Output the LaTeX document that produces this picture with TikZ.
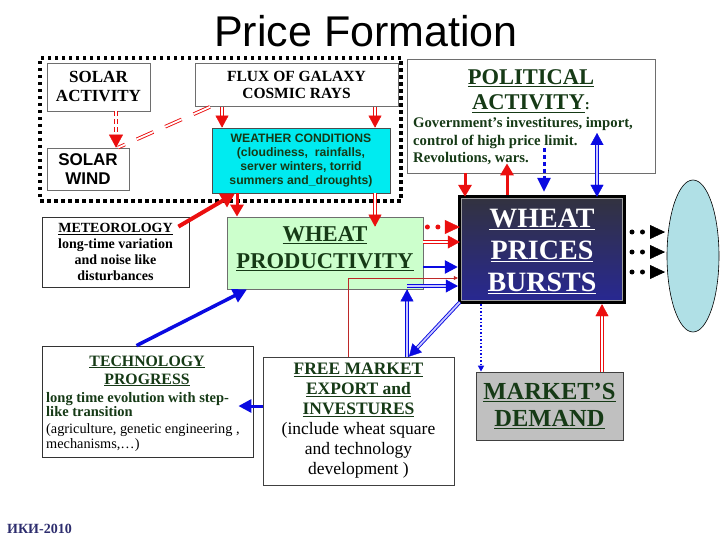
\documentclass[tikz,border=0pt]{standalone}
\usepackage{fontspec}
\setmainfont{Liberation Serif}
\setsansfont{Liberation Sans}
\usetikzlibrary{arrows.meta,shapes.geometric,calc}
\definecolor{dkgreen}{RGB}{22,58,22}
\definecolor{myred}{RGB}{235,15,15}
\definecolor{thinred}{RGB}{190,40,40}
\definecolor{myblue}{RGB}{10,10,225}
\definecolor{ltblue}{RGB}{200,200,255}
\definecolor{cyanbox}{RGB}{0,235,240}
\definecolor{greenbox}{RGB}{204,255,204}
\definecolor{graybox}{RGB}{192,192,192}
\definecolor{ellfill}{RGB}{176,224,230}
\definecolor{navytext}{RGB}{45,45,110}
\definecolor{boxgray}{RGB}{110,110,110}
\definecolor{ptop}{RGB}{50,50,64}
\definecolor{pbot}{RGB}{40,40,145}
\newcommand\fs[2]{\fontsize{#1}{#2}\selectfont}
% double-line arrow: colour, inner colour, from, to
\newcommand\dblarr[4]{%
  \draw[draw=#1, line width=0.9pt, double=#2, double distance=1.8pt, shorten >=9pt] (#3) -- (#4);
  \draw[draw=#1, line width=0.4pt, -{Triangle[length=12pt,width=13pt]}] ($(#4)!1pt!(#3)$) -- (#4);}
\newcommand\dblbiarr[4]{%
  \draw[draw=#1, line width=0.9pt, double=#2, double distance=1.8pt, shorten >=9pt, shorten <=9pt] (#3) -- (#4);
  \draw[draw=#1, line width=0.4pt, -{Triangle[length=12pt,width=13pt]}] ($(#4)!1pt!(#3)$) -- (#4);
  \draw[draw=#1, line width=0.4pt, -{Triangle[length=12pt,width=13pt]}] ($(#3)!1pt!(#4)$) -- (#3);}
% dotted arrow: colour, start of dots, tip
\newcommand\dotarr[3]{%
  \draw[draw=#1, line width=5pt, line cap=round, dash pattern=on 0pt off 10.5pt] (#2) -- ($(#2)!12pt!(#3)$);
  \draw[draw=#1, line width=0.4pt, -{Triangle[length=15pt,width=14pt]}] ($(#3)!1pt!(#2)$) -- (#3);}
\tikzset{
  boxA/.style={draw=boxgray, line width=0.8pt, fill=white, inner sep=0pt, align=center},
  txt/.style={inner sep=0pt},
  solidR/.style={draw=myred, line width=3pt, -{Triangle[length=12pt,width=13pt]}},
  solidB/.style={draw=myblue, line width=3pt, -{Triangle[length=13pt,width=13pt]}},
}
\begin{document}
\begin{tikzpicture}[x=1pt,y=-1pt]
\useasboundingbox (0,0) rectangle (720,540);
\fill[white] (0,0) rectangle (720,540);
% title
\node[txt, font=\sffamily\fs{43}{48}, anchor=base] (title) at (366,47) {Price Formation};
% dotted frame
\node[draw=black, line width=3.5pt, dash pattern=on 3.5pt off 3.5pt, minimum width=361pt, minimum height=143pt, inner sep=0pt] (frame) at (220.5,129.5) {};
% boxes
\node[boxA, minimum width=103pt, minimum height=48pt, font=\bfseries\fs{17}{19}] (solarA) at (98.5,87) {SOLAR\\ACTIVITY};
\node[boxA, minimum width=203pt, minimum height=43pt, font=\bfseries\fs{15.5}{17}] (flux) at (296.5,85) {FLUX OF GALAXY\\COSMIC RAYS};
\node[boxA, minimum width=82pt, minimum height=42pt, font=\sffamily\bfseries\fs{17}{19}] (solarW) at (88,169) {SOLAR\\WIND};
\node[boxA, draw=black!70, fill=cyanbox, minimum width=178pt, minimum height=65pt, font=\sffamily\bfseries\fs{12.2}{14}, text=dkgreen] (weather) at (301,160.5) {WEATHER CONDITIONS\\(cloudiness,\ \ rainfalls,\\server winters, torrid\\summers and\_droughts)};
\node[boxA, minimum width=248pt, minimum height=114pt] (political) at (531,116) {};
\node[boxA, draw=black!80, minimum width=147pt, minimum height=70pt, font=\bfseries\fs{14}{16}] (meteo) at (115.5,252) {\underline{METEOROLOGY}\\long-time variation\\and noise like\\disturbances};
\node[boxA, fill=greenbox, minimum width=196pt, minimum height=72pt] (prod) at (325,253) {};
\node[fill=black, minimum width=168pt, minimum height=109pt, inner sep=0pt] (prices) at (542,249.5) {};
\path[draw=gray!75, line width=0.7pt, top color=ptop, bottom color=pbot] ([shift={(4pt,-4pt)}]prices.north west) rectangle ([shift={(-4pt,4pt)}]prices.south east);
\node[ellipse, draw=black, line width=0.6pt, fill=ellfill, minimum width=52pt, minimum height=152pt, inner sep=0pt] (cloud) at (693,256) {};
\node[boxA, draw=black!80, minimum width=211pt, minimum height=111pt] (tech) at (147.5,401.5) {};
\node[boxA, draw=black!75, minimum width=191pt, minimum height=128pt, font=\fs{17.5}{20}] (freeM) at (358.5,421) {{\bfseries\color{dkgreen}\underline{FREE MARKET}}\\{\bfseries\color{dkgreen}\underline{EXPORT and}}\\{\bfseries\color{dkgreen}\underline{INVESTURES}}\\(include wheat square\\and technology\\development )};
\node[boxA, draw=black!75, fill=graybox, minimum width=147pt, minimum height=68pt, font=\bfseries\fs{24.5}{27}, text=dkgreen] (demand) at (549.5,406) {\underline{MARKET’S}\\\underline{DEMAND}};
% texts
\node[txt, font=\bfseries\fs{22.5}{26}, text=dkgreen, anchor=base] (polT1) at (531,85) {\underline{POLITICAL}};
\node[txt, font=\bfseries\fs{22.5}{26}, text=dkgreen, anchor=base] (polT2) at (531,110) {\underline{ACTIVITY}{\fs{15}{15}:}};
\node[txt, font=\bfseries\fs{14.7}{17}, text=dkgreen, anchor=base west] (polT3) at (413,128) {Government’s investitures, import,};
\node[txt, font=\bfseries\fs{14.7}{17}, text=dkgreen, anchor=base west] (polT4) at (413,146) {control of high price limit.};
\node[txt, font=\bfseries\fs{14.7}{17}, text=dkgreen, anchor=base west] (polT5) at (413,163) {Revolutions, wars.};
\node[txt, font=\bfseries\fs{22.6}{27}, text=dkgreen, align=center] (prodT) at (325,249) {\underline{WHEAT}\\\underline{PRODUCTIVITY}};
\node[txt, font=\bfseries\fs{28}{32}, text=white, align=center] (pricesT) at (542,251.5) {\underline{WHEAT}\\\underline{PRICES}\\\underline{BURSTS}};
\node[txt, font=\bfseries\fs{15.8}{18}, text=dkgreen, anchor=base] (techT1) at (147,366) {\underline{TECHNOLOGY}};
\node[txt, font=\bfseries\fs{15.8}{18}, text=dkgreen, anchor=base] (techT2) at (147,384) {\underline{PROGRESS}};
\node[txt, font=\bfseries\fs{14.5}{16}, text=dkgreen, anchor=base west] (techT3) at (46,402) {long time evolution with step-};
\node[txt, font=\bfseries\fs{14.5}{16}, text=dkgreen, anchor=base west] (techT4) at (46,416) {like transition};
\node[txt, font=\fs{14.3}{16}, anchor=base west] (techT5) at (46,433) {(agriculture, genetic engineering ,};
\node[txt, font=\fs{14.3}{16}, anchor=base west] (techT6) at (46,448) {mechanisms,…)};
\node[txt, font=\bfseries\fs{14}{15}, text=navytext, anchor=base west] (iki) at (7,533) {ИКИ-2010};
% connector end points
\coordinate (c1a) at (116,0 |- solarA.south);
\coordinate (c1b) at (116,0 |- solarW.north);
\coordinate (c2a) at (210,0 |- flux.south);
\coordinate (c2b) at (118,0 |- solarW.north);
\coordinate (c3a) at (222,0 |- flux.south);
\coordinate (c3b) at (222,0 |- weather.north);
\coordinate (c4a) at (375,0 |- flux.south);
\coordinate (c4b) at (375,0 |- weather.north);
\coordinate (c5a) at ([xshift=-11pt,yshift=-10pt]meteo.north east);
\coordinate (c5b) at (235,0 |- weather.south);
\coordinate (c6a) at (237,0 |- weather.south);
\coordinate (c6b) at (237,0 |- prod.north);
\coordinate (c7a) at (375,0 |- weather.south);
\coordinate (c7b) at ($(375,0 |- prod.north)+(0,10)$);
\coordinate (c8a) at ($(prod.east |- 0,227)+(4,0)$);
\coordinate (c8b) at ($(prices.west |- 0,227)+(2,0)$);
\coordinate (c9a) at (prod.east |- 0,242);
\coordinate (c9b) at ($(prices.west |- 0,242)+(2,0)$);
\coordinate (c10a) at (prod.east |- 0,267);
\coordinate (c10b) at (prices.west |- 0,267);
\coordinate (c11a) at (348,0 |- freeM.north);
\coordinate (c11b) at (prices.west |- 0,278);
\coordinate (c12a) at (407,0 |- freeM.north);
\coordinate (c12b) at (407,0 |- prod.south);
\coordinate (c13a) at (407,286);
\coordinate (c13b) at (prices.west |- 0,286);
\coordinate (c14a) at ([shift={(2pt,2pt)}]prices.south west);
\coordinate (c14b) at (409,0 |- freeM.north);
\coordinate (c15a) at ([xshift=-11pt]tech.north);
\coordinate (c15b) at (247,0 |- prod.south);
\coordinate (c16a) at (freeM.west |- 0,406);
\coordinate (c16b) at ($(tech.east |- 0,406)+(-15,0)$);
\coordinate (c17a) at (481,0 |- prices.south);
\coordinate (c17b) at (481,0 |- demand.north);
\coordinate (c18a) at (602,0 |- demand.north);
\coordinate (c18b) at (602,0 |- prices.south);
\coordinate (c19a) at (465,0 |- political.south);
\coordinate (c19b) at ($(465,0 |- prices.north)+(0,2)$);
\coordinate (c20a) at (507,0 |- prices.north);
\coordinate (c20b) at ($(507,0 |- political.south)+(0,-10)$);
\coordinate (c21a) at (544,148);
\coordinate (c21b) at ($(544,0 |- prices.north)+(0,-3)$);
\coordinate (c22a) at (597,133);
\coordinate (c22b) at ($(597,0 |- prices.north)+(0,2)$);
% connectors: top cluster
\draw[draw=myred, line width=0.9pt, double=white, double distance=1.8pt, dash pattern=on 5pt off 3pt, shorten >=12pt] (c1a) -- (c1b);
\draw[draw=myred, line width=0.4pt, -{Triangle[length=13pt,width=14pt]}] ($(c1b)!1pt!(c1a)$) -- (c1b);
\draw[draw=myred, line width=0.9pt, double=white, double distance=1.8pt, dash pattern=on 18pt off 13pt] (c2a) -- (c2b);
\dblarr{myred}{white}{c3a}{c3b}
\dblarr{myred}{white}{c4a}{c4b}
\draw[solidR, line width=4pt, -{Triangle[length=14pt,width=15pt]}] (c5a) -- (c5b);
\draw[solidR] (c6a) -- (c6b);
\dblarr{myred}{white}{c7a}{c7b}
% productivity -> prices
\dotarr{myred}{c8a}{c8b}
\dblarr{myred}{white}{c9a}{c9b}
\draw[solidB, line width=2.5pt] (c10a) -- (c10b);
\draw[draw=thinred, line width=0.7pt, -{Triangle[length=4pt,width=4pt]}] (c11a) |- (c11b);
\dblarr{myblue}{ltblue}{c12a}{c12b}
\dblarr{myblue}{ltblue}{c13a}{c13b}
\dblarr{myblue}{ltblue}{c14a}{c14b}
% technology
\draw[solidB, line width=3.5pt, -{Triangle[length=14pt,width=14pt]}] (c15a) -- (c15b);
\draw[solidB] (c16a) -- (c16b);
% market demand
\draw[draw=myblue, line width=1.5pt, dash pattern=on 1.5pt off 2pt, -{Triangle[length=6pt,width=6pt]}] (c17a) -- (c17b);
\dblarr{myred}{white}{c18a}{c18b}
% political
\draw[solidR] (c19a) -- (c19b);
\draw[solidR] (c20a) -- (c20b);
\draw[draw=myblue, line width=3pt, dash pattern=on 4pt off 3pt, -{Triangle[length=14pt,width=13pt]}] (c21a) -- (c21b);
\dblbiarr{myblue}{ltblue}{c22a}{c22b}
% prices -> ellipse
\foreach \yy/\nm in {232/a,252/b,272/c}{
  \coordinate (d\nm1) at (632,\yy);
  \coordinate (d\nm2) at (665,\yy);
}
\dotarr{black}{da1}{da2}
\dotarr{black}{db1}{db2}
\dotarr{black}{dc1}{dc2}
\end{tikzpicture}
\end{document}
